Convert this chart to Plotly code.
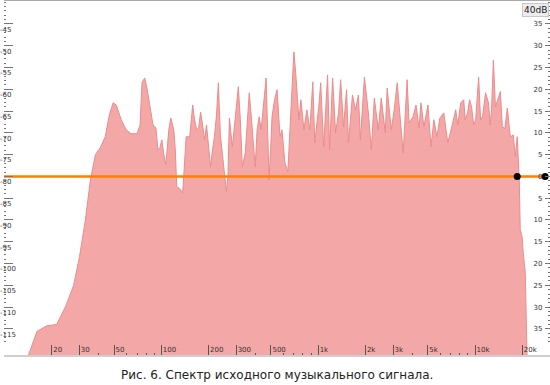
import plotly.graph_objects as go

# Spectrum (frequency in Hz, level in dB)
freq_hz = [13.6, 16.1, 18.6, 21.5, 24.5, 27.6, 30.1, 32.8, 35.3, 38.0, 40.8, 43.9, 46.6, 49.3, 51.6, 55.5,
           59.7, 64.1, 70.0, 73.2, 75.3, 78.3, 81.0, 84.7, 88.5, 92.4, 95.1, 97.9, 100.8, 103.8, 106.9,
           111.6, 114.9, 120.1, 122.8, 125.4, 131, 136.8, 141, 144, 151.7, 158.5, 163, 168, 172.9, 178,
           183.3, 188.7, 194.2, 200, 206, 212, 218, 224.8, 231, 238, 249, 260, 266, 271.6, 283.8, 296.6,
           309.8, 319, 328.5, 343, 353, 363.5, 374, 385, 396.7, 408, 420.6, 432.7, 445.6, 465.6, 476,
           486, 497.5, 508, 527, 547, 571, 587.6, 614, 641, 660.6, 680, 700, 721, 737, 753, 776, 811,
           847, 885, 924, 951, 1008, 1038, 1084, 1148, 1183, 1236, 1291, 1349, 1390, 1452, 1517, 1560,
           1655, 1729, 1806, 1858, 1972, 2089, 2182, 2280, 2416, 2524, 2678, 2754, 2922, 3053, 3190,
           3380, 3483, 3690, 3797, 4026, 4206, 4395, 4520, 4722, 5012, 5236, 5470, 5716, 5970, 6324,
           6700, 7112, 7534, 7760, 8110, 8472, 8660, 8974, 9230, 9506, 9800, 10094, 10544, 10850, 11170,
           11668, 12190, 12480, 12736, 13100, 13490, 14094, 14500, 14930, 15500, 16070, 16790, 17540,
           18060, 18580, 19140, 19420, 20000, 20290, 20900, 21520]
level_db = [-123, -115.6, -114.3, -114.0, -109.9, -105, -98.4, -90, -80.8, -75, -73.4, -70.9, -65.9, -63.1,
            -63.6, -67, -69.3, -70.2, -70.2, -68.2, -58.5, -57.4, -59.7, -64, -68.2, -68.9, -73.9, -73.4,
            -71.6, -75, -77.3, -69.3, -66.6, -69.3, -73.9, -82.4, -82.8, -83.8, -76.2, -70.9, -70.9,
            -63.6, -67, -69.3, -68.9, -65.2, -68.2, -71.6, -68.2, -73.9, -77.8, -73.9, -70.9, -65.9,
            -58.5, -70.5, -78, -83.5, -79.6, -66.6, -73.2, -65.9, -59.4, -67, -77.8, -74.6, -67, -60.8,
            -65.9, -71.6, -77.8, -69.3, -66.3, -69.3, -64.7, -57.4, -69.3, -80.8, -73.9, -66.3, -62.4,
            -60.1, -70.9, -69.3, -76.9, -78.9, -69.3, -60.1, -51.4, -56.7, -61.3, -67, -62.4, -69.3,
            -64.7, -69.3, -58.3, -72.3, -64, -58.5, -73.2, -56.7, -73.9, -57.4, -70, -65.4, -57.8, -68.6,
            -60.1, -72.3, -61.3, -64.7, -61.3, -71.6, -57.2, -65.4, -73.9, -62, -69.3, -62, -70, -59.7,
            -69.3, -64.7, -58.5, -69.3, -74.6, -57.8, -67.7, -66.3, -63.6, -68.9, -63.1, -68.6, -63.6,
            -73.2, -67, -70.9, -66.6, -65.4, -72.3, -68.6, -64.7, -68.2, -63.1, -62.4, -67, -65.4, -62.4,
            -64, -68.2, -67, -57.2, -67, -66.3, -60.8, -63.1, -68.2, -64.7, -53.3, -64, -62, -60.5,
            -68.6, -69, -64.3, -70.9, -70.5, -75.5, -70.9, -80.8, -92.2, -94, -97.5, -102, -123]

ref_level = -80
ref_line_freq = [9.9, 27980]
marker_freq = [18580, 27980]

x_tickvals = [20, 30, 50, 100, 200, 300, 500, 1000, 2000, 3000, 5000, 10000, 20000]
x_ticktext = ["20", "30", "50", "100", "200", "300", "500", "1k", "2k", "3k", "5k", "10k", "20k"]
x_minor = [40, 60, 70, 80, 90, 400, 600, 700, 800, 900, 4000, 6000, 7000, 8000, 9000]

y_tickvals = [-45, -50, -55, -60, -65, -70, -75, -80, -85, -90, -95, -100, -105, -110, -115, -120]
y_ticktext = ["-45", "-50", "-55", "-60", "-65", "-70", "-75", "-80", "-85", "-90", "-95",
              "-100", "-105", "-110", "-115", "-120"]
y2_tickvals = [-45, -50, -55, -60, -65, -70, -75, -80, -85, -90, -95, -100, -105, -110, -115]
y2_ticktext = ["35", "30", "25", "20", "15", "10", "5", "0", "5", "10", "15", "20", "25", "30", "35"]

fig = go.Figure()
fig.add_trace(go.Scatter(
    x=freq_hz, y=level_db, mode="lines", fill="toself",
    fillcolor="rgb(244,167,167)", line=dict(color="rgb(236,140,140)", width=1),
    hoverinfo="skip"))
fig.add_trace(go.Scatter(
    x=ref_line_freq, y=[ref_level, ref_level], mode="lines",
    line=dict(color="#FF8000", width=2.5), hoverinfo="skip", cliponaxis=False))
fig.add_trace(go.Scatter(
    x=marker_freq, y=[ref_level, ref_level], mode="markers",
    marker=dict(color="black", size=7), hoverinfo="skip", cliponaxis=False))
fig.add_trace(go.Scatter(x=[1000], y=[-80], yaxis="y2", mode="markers",
                         marker=dict(opacity=0), hoverinfo="skip"))

fig.update_layout(
    width=550, height=385,
    margin=dict(l=0, r=0, t=0, b=30),
    paper_bgcolor="white", plot_bgcolor="white",
    showlegend=False, hovermode=False,
    font=dict(family="DejaVu Sans", size=7, color="#333"),
    xaxis=dict(
        type="log", range=[0.997, 4.478], showgrid=False, zeroline=False,
        tickvals=x_tickvals, ticktext=x_ticktext,
        ticks="inside", ticklen=10, tickcolor="#555", tickwidth=1,
        ticklabelposition="inside right", ticklabelstandoff=-3,
        showline=True, linecolor="#cfcfcf", linewidth=2,
        minor=dict(tickvals=x_minor, ticks="inside", ticklen=2, tickcolor="#555"),
        tickfont=dict(size=7, color="#333"),
    ),
    yaxis=dict(
        range=[-121, -39.5], showgrid=False, zeroline=False,
        tickvals=y_tickvals, ticktext=y_ticktext,
        ticks="inside", ticklen=9, tickcolor="#777", tickwidth=1,
        ticklabelposition="inside bottom", ticklabelstandoff=-7,
        minor=dict(dtick=1, ticks="inside", ticklen=2, tickcolor="#777"),
        tickfont=dict(size=7, color="#333"),
        showline=False,
    ),
    yaxis2=dict(
        overlaying="y", side="right", matches="y", showgrid=False, zeroline=False,
        tickvals=y2_tickvals, ticktext=y2_ticktext,
        ticks="inside", ticklen=5, tickcolor="#777", tickwidth=1,
        ticklabelposition="inside", ticklabelstandoff=1,
        minor=dict(dtick=1, ticks="inside", ticklen=2, tickcolor="#777"),
        tickfont=dict(size=7, color="#333"),
        showline=False,
    ),
    shapes=[dict(type="line", xref="paper", yref="paper", x0=0, x1=1, y0=1, y1=1,
                 line=dict(color="#aaa", width=2))],
    annotations=[
        dict(text="40dB", xref="paper", yref="paper", x=0.973, y=1, xanchor="center",
             yanchor="top", yshift=-3, showarrow=False, font=dict(size=9, color="#222"),
             bgcolor="#ececec", bordercolor="#c8c8c8", borderwidth=1, borderpad=1),
        dict(text="Рис. 6. Спектр исходного музыкального сигнала.", xref="paper", yref="paper",
             x=0.5, y=0, xanchor="center", yanchor="middle", yshift=-20, showarrow=False,
             font=dict(family="DejaVu Sans", size=12, color="#222")),
    ],
)

fig.write_html("out.html")
